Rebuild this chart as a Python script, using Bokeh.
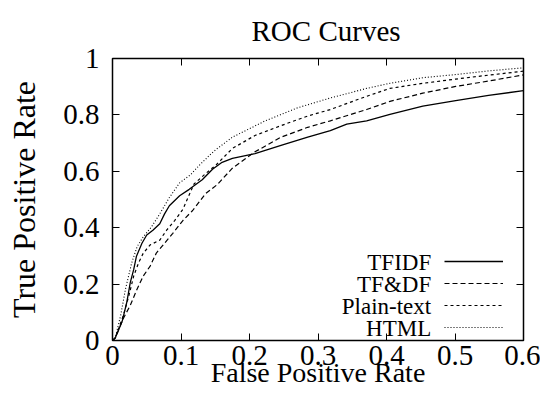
from bokeh.plotting import figure
from bokeh.models import LinearAxis, FixedTicker, Range1d, Legend, LegendItem, Label
from bokeh.embed import file_html
from bokeh.resources import INLINE

FONT = "Liberation Serif"

# ---- data ----
tfidf_x = [0, .004, .014, .021, .026, .031, .035, .043, .050, .059, .069, .076, .083, .098, .112, .131,
           .146, .160, .175, .208, .246, .285, .318, .342, .371, .405, .453, .501, .549, .6]
tfidf_y = [0, .009, .067, .137, .206, .252, .299, .345, .374, .391, .414, .449, .478, .513, .536, .570,
           .607, .632, .646, .663, .692, .721, .744, .767, .779, .802, .831, .851, .869, .886]

tfdf_x = [0, .004, .016, .026, .036, .045, .055, .064, .076, .088, .103, .117, .136, .153, .175, .208,
          .246, .285, .318, .371, .405, .453, .501, .549, .6]
tfdf_y = [0, .009, .079, .125, .183, .229, .264, .310, .345, .380, .426, .461, .521, .553, .611, .669,
          .721, .756, .779, .819, .848, .877, .901, .920, .942]

plain_x = [0, .004, .016, .024, .031, .038, .045, .055, .069, .079, .091, .103, .109, .119, .135, .151,
           .175, .208, .246, .285, .318, .371, .405, .453, .501, .549, .6]
plain_y = [0, .009, .090, .160, .229, .275, .310, .339, .356, .391, .426, .466, .500, .555, .590, .622,
           .681, .727, .762, .796, .819, .866, .894, .912, .927, .941, .955]

html_x = [0, .004, .012, .019, .028, .036, .045, .057, .069, .083, .098, .114, .127, .143, .151, .175,
          .223, .270, .318, .371, .405, .453, .501, .549, .6]
html_y = [0, .009, .090, .183, .275, .333, .368, .403, .449, .507, .559, .588, .622, .660, .677, .721,
          .779, .825, .860, .894, .912, .932, .943, .956, .967]

series_names = ["TFIDF", "TF&DF", "Plain-text", "HTML"]

x_ticks = [0, 0.1, 0.2, 0.3, 0.4, 0.5, 0.6]
x_tick_labels = ["0", "0.1", "0.2", "0.3", "0.4", "0.5", "0.6"]
y_ticks = [0, 0.2, 0.4, 0.6, 0.8, 1.0]
y_tick_labels = ["0", "0.2", "0.4", "0.6", "0.8", "1"]

# ---- figure ----
p = figure(width=540, height=391, output_backend="svg", toolbar_location=None,
           x_range=Range1d(0, 0.6), y_range=Range1d(0, 1),
           min_border_left=112, min_border_right=17, min_border_top=58, min_border_bottom=51,
           x_axis_label="False Positive Rate", y_axis_label="True Positive Rate")

p.title.text = "ROC Curves"
p.title.align = "left"
p.title.text_font = FONT
p.title.text_font_size = "29px"
p.title.text_font_style = "normal"
p.title.text_color = "black"
p.title.offset = 139
p.title.standoff = 24

p.xgrid.visible = False
p.ygrid.visible = False
p.outline_line_color = "black"
p.outline_line_width = 1.5
p.outline_line_alpha = 1
p.background_fill_color = "white"
p.border_fill_color = "white"

def style_axis(ax, ticks, labels, show_labels=True):
    ax.ticker = FixedTicker(ticks=ticks)
    ax.major_tick_in = 7
    ax.major_tick_out = 0
    ax.minor_tick_in = 0
    ax.minor_tick_out = 0
    ax.major_tick_line_color = "black"
    ax.major_tick_line_width = 1
    ax.axis_line_color = None
    ax.major_label_text_font = FONT
    ax.major_label_text_color = "black"
    ax.axis_label_text_font = FONT
    ax.axis_label_text_font_size = "28px"
    ax.axis_label_text_font_style = "normal"
    ax.axis_label_text_color = "black"
    if show_labels:
        ax.major_label_overrides = {t: l for t, l in zip(ticks, labels)}
        ax.major_label_text_font_size = "29px"
    else:
        ax.major_label_overrides = {t: "" for t in ticks}
        ax.major_label_text_font_size = "1px"
        ax.major_label_standoff = 0

xa = p.xaxis[0]
style_axis(xa, x_ticks, x_tick_labels)
xa.major_label_standoff = 5
xa.axis_label_standoff = -11

ya = p.yaxis[0]
style_axis(ya, y_ticks, y_tick_labels)
ya.major_label_standoff = 13
ya.axis_label_standoff = 18
ya.axis_label_text_font_size = "32px"

top_ax = LinearAxis()
style_axis(top_ax, x_ticks, x_tick_labels, show_labels=False)
p.add_layout(top_ax, "above")

right_ax = LinearAxis()
style_axis(right_ax, y_ticks, y_tick_labels, show_labels=False)
p.add_layout(right_ax, "right")

# ---- curves ----
r1 = p.line(tfidf_x, tfidf_y, line_color="black", line_width=1.3)
r2 = p.line(tfdf_x, tfdf_y, line_color="black", line_width=1.2, line_dash="5 3")
r3 = p.line(plain_x, plain_y, line_color="black", line_width=1.2, line_dash="3 3")
r4 = p.line(html_x, html_y, line_color="black", line_width=1.1, line_dash="1 2")
renderers = [r1, r2, r3, r4]

legend = Legend(items=[LegendItem(label=" ", renderers=[r]) for r in renderers],
                location=(332, 4), glyph_width=59, glyph_height=18, label_height=18,
                label_width=0, label_standoff=0, spacing=4, padding=0, margin=0,
                border_line_color=None, background_fill_alpha=0,
                label_text_font_size="1px")
p.add_layout(legend)

row_y = [78.5, 56.5, 34.5, 12.5]
for name, yy in zip(series_names, row_y):
    p.add_layout(Label(x=318.7, y=yy, x_units="screen", y_units="screen", text=name,
                       text_align="right", text_baseline="middle",
                       text_font=FONT, text_font_size="23px", text_color="black"))

open("out.html", "w").write(file_html(p, INLINE))
